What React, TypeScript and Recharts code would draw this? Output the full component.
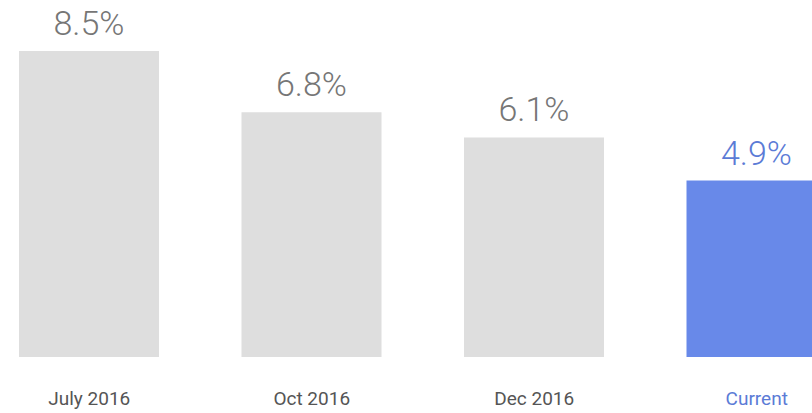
import { Bar, BarChart, Cell, LabelList, XAxis, YAxis } from "recharts";

const periods = ["July 2016", "Oct 2016", "Dec 2016", "Current"];
const rates = [8.5, 6.8, 6.1, 4.9];
const currentPeriod = "Current";

const data = periods.map((period, i) => ({ period, rate: rates[i] }));

const GREY_BAR = "#dedede";
const BLUE_BAR = "#6889e9";
const GREY_TEXT = "#767676";
const BLUE_TEXT = "#5b7bd6";

function PeriodTick(props: any) {
  const { x, y, payload } = props;
  const isCurrent = payload.value === currentPeriod;
  return (
    <text
      x={x}
      y={y}
      dy={40}
      textAnchor="middle"
      fontFamily="Roboto, sans-serif"
      fontSize={19}
      fill={isCurrent ? BLUE_TEXT : "#555555"}
    >
      {payload.value}
    </text>
  );
}

function RateLabel(props: any) {
  const { x, y, width, value, index } = props;
  const isCurrent = periods[index] === currentPeriod;
  return (
    <text
      x={x + width / 2}
      y={y - 16}
      textAnchor="middle"
      fontFamily="Roboto, sans-serif"
      fontWeight={300}
      fontSize={34}
      fill={isCurrent ? BLUE_TEXT : GREY_TEXT}
    >
      {`${value}%`}
    </text>
  );
}

export default function App() {
  return (
    <div
      style={{
        position: "absolute",
        left: 0,
        top: 0,
        width: 812,
        height: 413,
        overflow: "hidden",
        background: "#ffffff",
      }}
    >
      <div style={{ position: "absolute", left: -22, top: 0 }}>
        <BarChart
          width={890}
          height={413}
          data={data}
          margin={{ top: 15, right: 0, bottom: 0, left: 0 }}
        >
          <XAxis
            dataKey="period"
            axisLine={false}
            tickLine={false}
            height={56}
            interval={0}
            tick={<PeriodTick />}
          />
          <YAxis hide domain={[0, 9.5]} />
          <Bar dataKey="rate" barSize={140} isAnimationActive={false}>
            {data.map((d) => (
              <Cell
                key={d.period}
                fill={d.period === currentPeriod ? BLUE_BAR : GREY_BAR}
              />
            ))}
            <LabelList dataKey="rate" content={<RateLabel />} />
          </Bar>
        </BarChart>
      </div>
    </div>
  );
}
